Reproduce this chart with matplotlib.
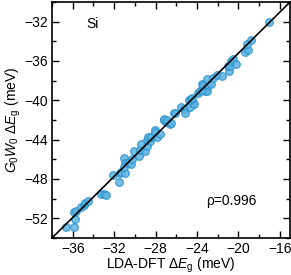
import matplotlib
matplotlib.use("Agg")
import matplotlib.pyplot as plt
from matplotlib.ticker import MultipleLocator

plt.rcParams["font.family"] = ["Liberation Sans", "DejaVu Sans"]
plt.rcParams["mathtext.fontset"] = "custom"
plt.rcParams["mathtext.rm"] = "Liberation Sans"
plt.rcParams["mathtext.it"] = "Liberation Sans:italic"

# LDA-DFT band-gap shift vs G0W0 band-gap shift (meV)
lda = [-36.7, -35.9, -35.8, -35.85, -35.7, -35.2, -34.9, -34.8, -34.55, -33.3,
       -33.0, -32.75, -32.1, -31.5, -31.4, -31.3, -31.0, -31.1, -31.0, -31.1,
       -30.7, -30.6, -30.4, -30.3, -30.1, -29.6, -29.5, -29.4, -29.0, -28.85,
       -28.85, -28.7, -28.5, -28.4, -28.05, -28.1, -27.9, -27.55, -27.2, -27.0,
       -27.15, -26.9, -26.6, -26.55, -26.2, -26.1, -25.5, -25.3, -25.15, -24.7,
       -24.4, -24.25, -24.8, -24.6, -24.5, -23.9, -23.7, -23.2, -23.05, -23.55,
       -23.55, -23.45, -22.9, -22.6, -23.05, -22.5, -22.1, -21.55, -20.9, -21.0,
       -20.8, -20.7, -20.55, -20.25, -19.4, -19.1, -19.2, -18.8, -17.0]
gw = [-52.9, -52.9, -52.1, -51.4, -51.3, -50.9, -50.65, -50.5, -50.25, -49.5,
      -49.5, -49.6, -47.6, -48.3, -47.4, -47.3, -47.4, -45.9, -46.4, -46.75,
      -46.4, -46.25, -46.5, -46.0, -45.2, -45.7, -45.1, -44.45, -45.2, -44.7,
      -44.0, -43.7, -44.1, -43.7, -43.0, -43.2, -43.7, -43.4, -42.0, -42.2,
      -41.9, -42.0, -42.4, -42.3, -41.3, -41.3, -40.7, -40.9, -41.3, -40.65,
      -40.3, -40.4, -40.0, -39.9, -39.8, -39.3, -39.1, -39.1, -39.1, -39.0,
      -38.3, -38.4, -38.4, -38.3, -37.8, -37.7, -37.4, -37.5, -37.0, -36.5,
      -36.5, -36.0, -35.8, -36.3, -35.05, -34.9, -34.3, -33.9, -32.0]

slope = 1.0435
intercept = -14.35
rho = 0.996

fig = plt.figure(figsize=(2.91, 2.75), dpi=100)
ax = fig.add_axes([0.179, 0.135, 0.818, 0.858])

ax.scatter(lda, gw, s=30, facecolor="#5fb3e0", edgecolor="#2b95cf",
           linewidth=0.9, alpha=0.85, zorder=2)

xl = (-38, -15)
ax.plot(xl, [slope * v + intercept for v in xl], color="black", lw=1.2, zorder=3)

ax.set_xlim(*xl)
ax.set_ylim(-54, -30)
ax.xaxis.set_major_locator(MultipleLocator(4))
ax.xaxis.set_minor_locator(MultipleLocator(2))
ax.yaxis.set_major_locator(MultipleLocator(4))
ax.yaxis.set_minor_locator(MultipleLocator(2))
ax.tick_params(which="both", direction="in", top=True, right=True, labelsize=10, width=1)
ax.tick_params(which="major", length=5, pad=3)
ax.tick_params(which="minor", length=3)
for s in ax.spines.values():
    s.set_linewidth(1.2)

ax.set_xlabel(r"LDA-DFT $\Delta E_\mathrm{g}$ (meV)", fontsize=10, labelpad=0)
ax.set_ylabel(r"$G_0W_0\ \Delta E_\mathrm{g}$ (meV)", fontsize=10, labelpad=1)

ax.text(0.168, 0.907, "Si", transform=ax.transAxes, ha="center", va="center", fontsize=10)
ax.text(0.752, 0.158, f"ρ={rho}", transform=ax.transAxes, ha="center", va="center", fontsize=10)

fig.savefig("out.png", dpi=100)
